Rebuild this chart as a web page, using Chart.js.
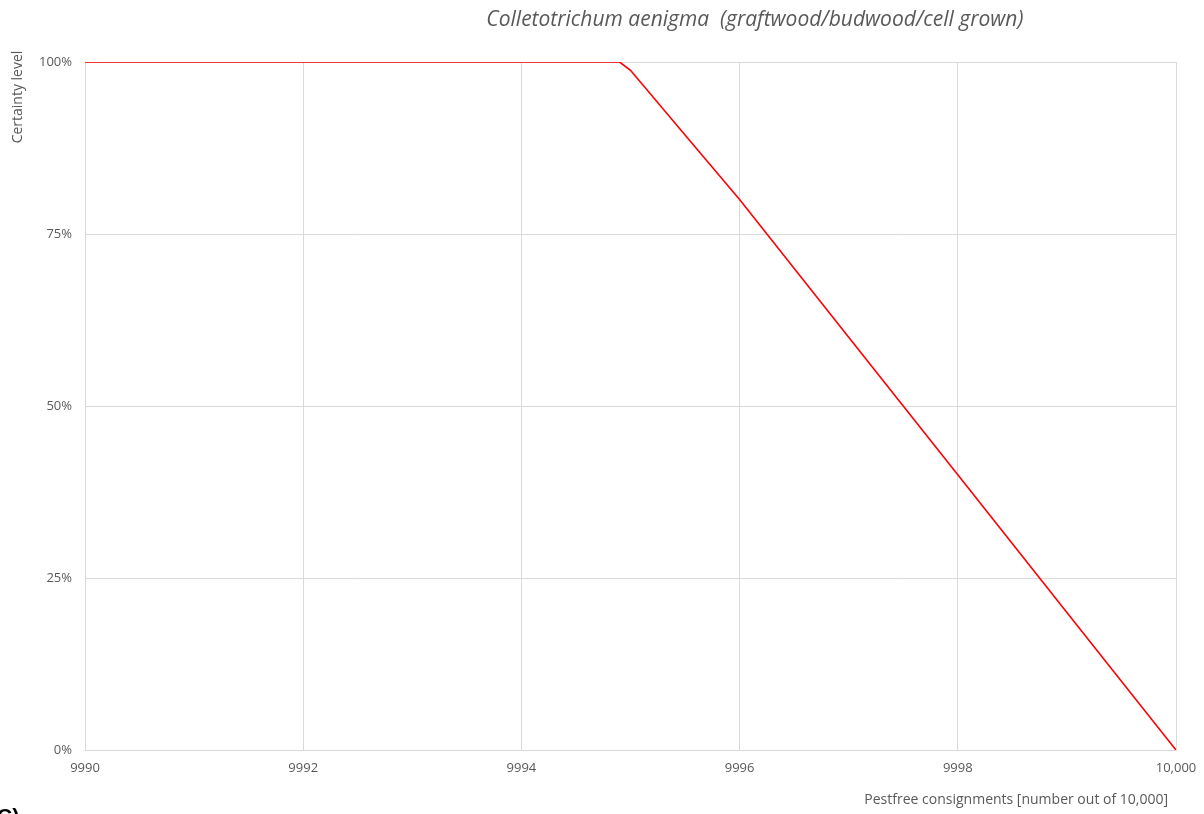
<!DOCTYPE html>
<html><head><meta charset="utf-8">
<script src="https://cdn.jsdelivr.net/npm/chart.js@4/dist/chart.umd.min.js"></script>
<style>html,body{margin:0;padding:0;background:#fff}#wrap{width:1204px;height:814px;position:relative}</style>
</head><body><div id="wrap"><canvas id="c"></canvas></div>
<script>
const xValues = [9990, 9994.9, 9995, 9995.5, 9996, 9997, 9998, 9999, 10000];
const certainty = [100, 100, 98.8, 89.4, 80, 60, 40, 20, 0];
const yTicks = [0, 25, 50, 75, 100];
const chartTitle = 'Colletotrichum aenigma  (graftwood/budwood/cell grown)';
const xTitle = 'Pestfree consignments [number out of 10,000]';
const yTitle = 'Certainty level';
const panelLabel = 'C)';

const FONT = "'Open Sans', 'Liberation Sans', sans-serif";
const textPlugin = {
  id: 'texts',
  afterDraw(chart) {
    const ctx = chart.ctx, a = chart.chartArea;
    ctx.save();
    ctx.fillStyle = '#595959';
    ctx.font = "italic 21px " + FONT;
    ctx.textAlign = 'center';
    ctx.textBaseline = 'middle';
    ctx.fillText(chartTitle, a.left + (a.right - a.left) * 0.614, 20);
    ctx.save();
    ctx.translate(18, 97);
    ctx.rotate(-Math.PI / 2);
    ctx.font = "14px " + FONT;
    ctx.fillText(yTitle, 0, 0);
    ctx.restore();
    ctx.textAlign = 'right';
    ctx.font = "14px " + FONT;
    ctx.fillText(xTitle, a.right - 8, 800);
    ctx.fillStyle = '#000';
    ctx.font = "bold 21px 'Liberation Sans', Arial, sans-serif";
    ctx.textAlign = 'left';
    ctx.textBaseline = 'alphabetic';
    ctx.fillText(panelLabel, -3, 823);
    ctx.restore();
  }
};

new Chart(document.getElementById('c'), {
  type: 'line',
  data: {
    datasets: [{
      data: xValues.map((x, i) => ({x: x, y: certainty[i]})),
      borderColor: '#ff0000',
      borderWidth: 1.6,
      pointRadius: 0,
      tension: 0,
      fill: false
    }]
  },
  options: {
    responsive: true,
    maintainAspectRatio: false,
    animation: false,
    layout: {padding: {left: 0, right: 28, top: 62, bottom: 0}},
    plugins: {legend: {display: false}, tooltip: {enabled: false}, title: {display: false}},
    scales: {
      x: {
        type: 'linear', min: 9990, max: 10000,
        afterFit(s) { s.height = 64; s.paddingRight = 0; s.paddingLeft = 0; },
        grid: {color: '#d9d9d9', drawTicks: false, lineWidth: 1},
        border: {color: '#d9d9d9'},
        ticks: {
          stepSize: 2, padding: 10, color: '#595959',
          font: {family: FONT, size: 13},
          callback: v => v >= 10000 ? v.toLocaleString('en-US') : String(v)
        }
      },
      y: {
        min: 0, max: 100,
        afterFit(s) { s.width = 85; s.paddingTop = 0; s.paddingBottom = 0; },
        afterBuildTicks(s) { s.ticks = yTicks.map(v => ({value: v})); },
        grid: {color: '#d9d9d9', drawTicks: false, lineWidth: 1},
        border: {color: '#d9d9d9'},
        ticks: {padding: 13, color: '#595959', font: {family: FONT, size: 13},
          callback: v => v + '%'}
      }
    }
  },
  plugins: [textPlugin]
});
</script></body></html>
